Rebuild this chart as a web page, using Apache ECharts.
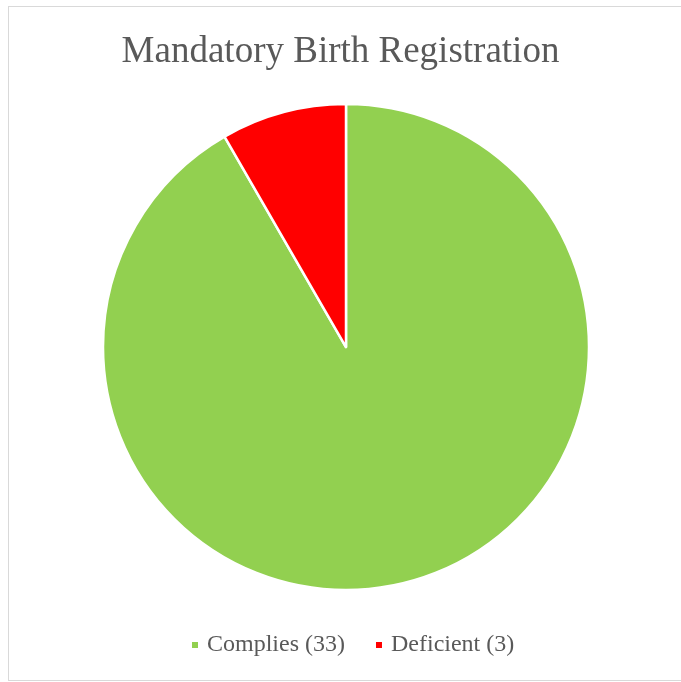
<!DOCTYPE html>
<html>
<head>
<meta charset="utf-8">
<script src="https://cdn.jsdelivr.net/npm/echarts@6/dist/echarts.min.js"></script>
<style>
  html, body { margin: 0; padding: 0; background: #fff; }
  #frame { position: absolute; left: 8px; top: 6px; width: 680px; height: 675px; border: 1.5px solid #d9d9d9; box-sizing: border-box; }
  #main { position: absolute; left: 0; top: 0; width: 681px; height: 682px; }
</style>
</head>
<body>
<div id="frame"></div>
<div id="main"></div>
<script>
const categories = ['Complies (33)', 'Deficient (3)'];
const values = [33, 3];
const colors = ['#92d050', '#ff0000'];

const chart = echarts.init(document.getElementById('main'));

chart.setOption({
  animation: false,
  title: {
    text: 'Mandatory Birth Registration',
    left: 'center',
    top: 29,
    textStyle: {
      fontFamily: 'Liberation Serif',
      fontWeight: 'normal',
      fontSize: 37,
      color: '#595959'
    }
  },
  legend: {
    top: 628,
    left: 185,
    icon: 'rect',
    itemWidth: 8,
    itemHeight: 8,
    itemGap: 29,
    textStyle: {
      fontFamily: 'Liberation Serif',
      fontSize: 24,
      color: '#595959',
      padding: [0, 0, 0, 3]
    },
    data: categories
  },
  series: [{
    type: 'pie',
    center: [346, 347],
    radius: 243,
    startAngle: 90,
    clockwise: true,
    label: { show: false },
    labelLine: { show: false },
    itemStyle: { borderColor: '#fff', borderWidth: 2.5 },
    emphasis: { disabled: true },
    data: categories.map((name, i) => ({
      name: name,
      value: values[i],
      itemStyle: { color: colors[i] }
    }))
  }]
});
</script>
</body>
</html>
